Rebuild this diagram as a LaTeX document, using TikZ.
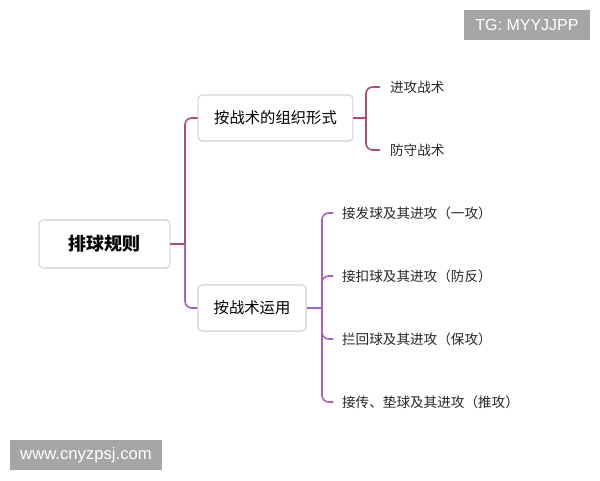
\documentclass[tikz,border=0pt]{standalone}
\usepackage{fontspec}
\setmainfont{Liberation Sans}
\newfontfamily\cjk{Noto Sans CJK SC}
\usetikzlibrary{positioning}

\definecolor{redline}{HTML}{B04A7A}
\definecolor{purpleline}{HTML}{A860C8}
\definecolor{markgray}{HTML}{A6A6A6}

\begin{document}
\begin{tikzpicture}[x=0.75pt,y=-0.75pt,line width=1.2pt,
  root node/.style={rectangle,rounded corners=3pt,draw=black!18,line width=0.8pt,
  fill=white,font=\cjk\bfseries\fontsize{13.5}{16}\selectfont,
  minimum width=98pt,minimum height=36pt},
  main node/.style={rectangle,rounded corners=3pt,draw=black!18,line width=0.8pt,
  fill=white,font=\cjk\fontsize{11.5}{14}\selectfont,minimum height=34.5pt},
  leaf node/.style={inner sep=1pt,anchor=west,font=\cjk\fontsize{10.2}{13}\selectfont,
  text=black!85},
  mark node/.style={rectangle,fill=markgray,text=white,
  font=\fontsize{12}{14}\selectfont,minimum height=22.5pt}]

  \useasboundingbox (0,0) rectangle (600,480);

  \node[root node] (rule) at (104.5,244) {排球规则};
  \node[main node,minimum width=116pt] (org) at (275.5,118) {按战术的组织形式};
  \node[main node,minimum width=81pt]  (use) at (252,308)   {按战术运用};

  \node[leaf node] (atk) at (388,87)  {进攻战术};
  \node[leaf node] (def) at (388,150) {防守战术};

  \node[leaf node] (u1) at (340,213) {接发球及其进攻（一攻）};
  \node[leaf node] (u2) at (340,276) {接扣球及其进攻（防反）};
  \node[leaf node] (u3) at (340,339) {拦回球及其进攻（保攻）};
  \node[leaf node] (u4) at (340,402) {接传、垫球及其进攻（推攻）};

  \coordinate (j1) at (185,244);
  \coordinate (j2) at (366,118);
  \coordinate (j3) at (322,308);

  % root to first level
  \draw[redline] (rule.east) -- (j1);
  \draw[redline,rounded corners=5pt] (j1) |- (org.west);
  \draw[purpleline,rounded corners=5pt] (j1) |- (use.west);

  % organisation branch
  \draw[redline] (org.east) -- (j2);
  \draw[redline,rounded corners=5pt,shorten >=6pt] (j2) |- (atk.west);
  \draw[redline,rounded corners=5pt,shorten >=6pt] (j2) |- (def.west);

  % usage branch
  \draw[purpleline] (use.east) -- (j3);
  \foreach \n in {u1,u2,u3,u4}
    \draw[purpleline,rounded corners=5pt,shorten >=5pt] (j3) |- (\n.west);

  % watermarks
  \node[mark node,minimum width=94pt] (tg)  at (527,25)  {TG: MYYJJPP};
  \node[mark node,minimum width=114pt,font=\fontsize{12.5}{14}\selectfont] (web) at (86,455) {www.cnyzpsj.com};

\end{tikzpicture}
\end{document}
